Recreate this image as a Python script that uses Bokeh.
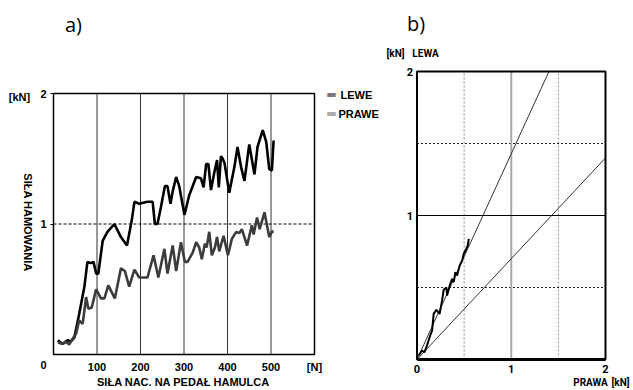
import math
from bokeh.plotting import figure
from bokeh.layouts import row
from bokeh.models import Range1d, Label, LinearAxis, FixedTicker
from bokeh.embed import file_html
from bokeh.resources import INLINE

# ---------------- data ----------------
# chart a) braking force [kN] vs pedal force [N]
lewe_x = [10, 21, 33, 40, 48, 59, 71, 78, 86, 92, 98, 103, 113, 124, 140, 155, 169, 180, 186, 197,
          216, 228, 233, 239, 247, 256, 262, 269, 274, 282, 289, 301, 312, 328, 339, 345, 351, 356,
          362, 370, 376, 380, 385, 389, 393, 404, 416, 423, 431, 439, 450, 462, 469, 481, 489, 496,
          502, 506]
lewe_y = [0.11, 0.08, 0.11, 0.10, 0.13, 0.31, 0.52, 0.71, 0.70, 0.71, 0.62, 0.62, 0.87, 0.94, 1.0,
          0.90, 0.835, 1.03, 1.17, 1.155, 1.17, 1.17, 1.0, 1.0, 1.13, 1.29, 1.29, 1.155, 1.25, 1.36,
          1.29, 1.07, 1.22, 1.36, 1.35, 1.28, 1.46, 1.46, 1.26, 1.40, 1.49, 1.28, 1.52, 1.50, 1.47,
          1.24, 1.44, 1.59, 1.44, 1.33, 1.61, 1.38, 1.59, 1.72, 1.63, 1.42, 1.41, 1.64]
prawe_x = [10, 21, 28, 36, 44, 52, 59, 67, 75, 80, 88, 98, 109, 117, 126, 132, 141, 155, 164, 174,
           186, 197, 216, 230, 241, 255, 262, 274, 282, 293, 302, 308, 320, 328, 335, 341, 348, 352,
           358, 364, 371, 376, 381, 391, 401, 410, 420, 427, 433, 445, 456, 460, 468, 474, 485, 496,
           502, 506]
prawe_y = [0.094, 0.08, 0.10, 0.077, 0.12, 0.16, 0.26, 0.235, 0.44, 0.35, 0.36, 0.50, 0.43, 0.43,
           0.53, 0.49, 0.43, 0.66, 0.64, 0.52, 0.65, 0.59, 0.59, 0.76, 0.59, 0.81, 0.62, 0.835, 0.64,
           0.86, 0.71, 0.71, 0.78, 0.86, 0.82, 0.73, 0.85, 0.82, 0.94, 0.76, 0.82, 0.90, 0.79, 0.91,
           0.76, 0.886, 0.94, 0.93, 0.96, 0.835, 0.99, 0.92, 1.05, 0.96, 1.09, 0.90, 0.94, 0.945]
a_xlim = [0, 600]
a_ylim = [0, 2]
a_xticks = [100, 200, 300, 400, 500, 600]
a_xtick_labels = {600: "[N]"}
a_yticks = [1, 2]
a_vgrid = [100, 200, 300, 400, 500]
a_hgrid = [1]
a_series = ["LEWE", "PRAWE"]

# chart b) left (LEWA) vs right (PRAWA) braking force [kN]
pair_x = [0.018, 0.053, 0.078, 0.106, 0.14, 0.16, 0.177, 0.205, 0.24, 0.266, 0.283, 0.312, 0.319,
          0.347, 0.372, 0.39, 0.407, 0.425, 0.453, 0.479, 0.496, 0.514, 0.538, 0.55]
pair_y = [0.028, 0.0625, 0.05, 0.097, 0.167, 0.20, 0.317, 0.345, 0.317, 0.41, 0.484, 0.50, 0.444,
          0.514, 0.56, 0.537, 0.606, 0.583, 0.653, 0.6875, 0.734, 0.757, 0.79, 0.838]
limit_hi_x = [0, 1.4]
limit_hi_y = [0, 2]
limit_lo_x = [0, 2]
limit_lo_y = [0, 1.4]
b_xlim = [0, 2]
b_ylim = [0, 2]
b_xticks = [0, 1, 2]
b_yticks = [1, 2]
b_dashed = [0.5, 1.5]
b_solid = [1]

BOLD = "Liberation Sans"
NARROW = "Roboto"
W_A, W_B, H = 380, 251, 388


def lab(p, x, y, text, size="11px", font=BOLD, style="bold", align="center", color="black",
        angle=0.0, baseline="middle"):
    p.add_layout(Label(x=x, y=y, text=text, text_font=font, text_font_style=style,
                       text_font_size=size, text_align=align, text_baseline=baseline,
                       text_color=color, angle=angle))


def style_axis(ax, font, tick_out, standoff, line_color=None, line_width=1, size="11px"):
    ax.axis_line_color = line_color
    ax.axis_line_width = line_width
    ax.major_tick_out = tick_out
    ax.major_tick_in = 0
    ax.major_tick_line_color = "black"
    ax.minor_tick_line_color = None
    ax.major_label_standoff = standoff
    ax.major_label_text_font = font
    ax.major_label_text_font_style = "bold"
    ax.major_label_text_font_size = size
    ax.major_label_text_color = "black"


def bare_figure(xr, yr, w):
    p = figure(width=w, height=H, output_backend="svg", toolbar_location=None,
               x_axis_location=None, y_axis_location=None, x_range=xr, y_range=yr,
               min_border=0)
    p.min_border_left = p.min_border_right = p.min_border_top = p.min_border_bottom = 0
    p.outline_line_color = None
    p.grid.grid_line_color = None
    p.background_fill_color = "white"
    p.border_fill_color = "white"
    return p


# ---------------- figure a ----------------
# chart box at page pixels 53..314 x 93..354
def ax_a(px):
    return (px - 53) / 0.435


def ay_a(py):
    return (354 - py) / 130.5


pa = bare_figure(Range1d(ax_a(0), ax_a(W_A)), Range1d(ay_a(H), ay_a(0)), W_A)

nv, nh = len(a_vgrid), len(a_hgrid)
pa.segment(x0=a_vgrid, x1=a_vgrid, y0=[a_ylim[0]] * nv, y1=[a_ylim[1]] * nv,
           line_color="#333333", line_width=1)
pa.segment(x0=[a_xlim[0]] * nh, x1=[a_xlim[1]] * nh, y0=a_hgrid, y1=a_hgrid,
           line_color="black", line_width=1, line_dash="3 2")

xa = LinearAxis(fixed_location=a_ylim[0], bounds=tuple(a_xlim),
                ticker=FixedTicker(ticks=a_xticks), major_label_overrides=a_xtick_labels)
style_axis(xa, BOLD, 0, 6)
pa.add_layout(xa, "below")
ya = LinearAxis(fixed_location=a_xlim[0], bounds=tuple(a_ylim), ticker=FixedTicker(ticks=a_yticks))
style_axis(ya, BOLD, 3, 4)
pa.add_layout(ya, "left")

pa.line(lewe_x, lewe_y, line_color="black", line_width=2.6)
pa.line(prawe_x, prawe_y, line_color="#3c3c3c", line_width=2.6)
pa.quad(left=[a_xlim[0]], right=[a_xlim[1]], bottom=[a_ylim[0]], top=[a_ylim[1]],
        fill_color=None, line_color="black", line_width=1.5)

# legend (grey keys as in the original)
lab(pa, ax_a(331), ay_a(94), "▬", size="11px", font="DejaVu Sans", style="normal", color="#7a7a7a")
lab(pa, ax_a(340), ay_a(94), a_series[0], align="left")
lab(pa, ax_a(331), ay_a(113), "▬", size="11px", font="DejaVu Sans", style="normal", color="#ababab")
lab(pa, ax_a(338), ay_a(113), a_series[1], align="left")

lab(pa, ax_a(73), ay_a(24), "a)", size="20px", font="Open Sans", style="normal")
lab(pa, ax_a(19), ay_a(96), "[kN]")
lab(pa, ax_a(43), ay_a(364), "0")
lab(pa, ax_a(27), ay_a(222), "SIŁA HAMOWANIA", angle=-math.pi / 2)
lab(pa, ax_a(183), ay_a(381), "SIŁA NAC. NA PEDAŁ HAMULCA")


# ---------------- figure b ----------------
# chart box at page pixels 416.5..605 x 71..359; figure starts at page x W_A
def bx(px):
    return (px - 416.5) / 94.25


def by(py):
    return (359 - py) / 144.0


pb = bare_figure(Range1d(bx(W_A), bx(W_A + W_B)), Range1d(by(H), by(0)), W_B)

nd, ns = len(b_dashed), len(b_solid)
pb.segment(x0=b_dashed, x1=b_dashed, y0=[b_ylim[0]] * nd, y1=[b_ylim[1]] * nd,
           line_color="#8a8a8a", line_width=1, line_dash="2 2")
pb.segment(x0=[b_xlim[0]] * nd, x1=[b_xlim[1]] * nd, y0=b_dashed, y1=b_dashed,
           line_color="#222222", line_width=1, line_dash="2 2")
pb.segment(x0=b_solid, x1=b_solid, y0=[b_ylim[0]] * ns, y1=[b_ylim[1]] * ns,
           line_color="#a8a8a8", line_width=2)
pb.segment(x0=[b_xlim[0]] * ns, x1=[b_xlim[1]] * ns, y0=b_solid, y1=b_solid,
           line_color="black", line_width=1.2)

pb.line(limit_hi_x, limit_hi_y, line_color="#333333", line_width=1)
pb.line(limit_lo_x, limit_lo_y, line_color="#333333", line_width=1)
pb.line(pair_x, pair_y, line_color="black", line_width=2)
pb.quad(left=[b_xlim[0]], right=[b_xlim[1]], bottom=[b_ylim[0]], top=[b_ylim[1]],
        fill_color=None, line_color="black", line_width=2)

xb = LinearAxis(fixed_location=b_ylim[0], bounds=tuple(b_xlim), ticker=FixedTicker(ticks=b_xticks))
style_axis(xb, NARROW, 0, 5, line_color="black", line_width=3)
pb.add_layout(xb, "below")
yb = LinearAxis(fixed_location=b_xlim[0], bounds=tuple(b_ylim), ticker=FixedTicker(ticks=b_yticks))
style_axis(yb, NARROW, 0, 4)
pb.add_layout(yb, "left")

lab(pb, bx(415.5), by(23), "b)", size="20px", font="Open Sans", style="normal")
lab(pb, bx(395), by(52.5), "[kN]", font=NARROW, size="10px")
lab(pb, bx(425), by(52.5), "LEWA", font=NARROW, size="10px")
lab(pb, bx(590), by(387), "PRAWA", font=NARROW, size="10px", baseline="bottom")
lab(pb, bx(620), by(387), "[kN]", font=NARROW, size="10px", baseline="bottom")

layout = row(pa, pb, spacing=0)
open("out.html", "w").write(file_html(layout, INLINE))
